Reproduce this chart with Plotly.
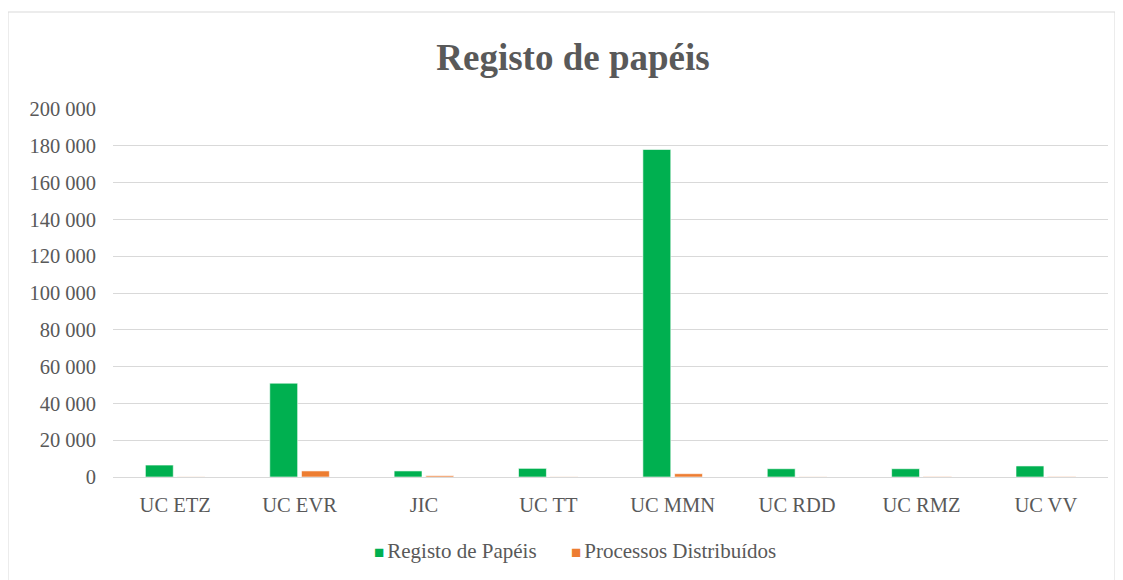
import plotly.graph_objects as go

categories = ["UC ETZ", "UC EVR", "JIC", "UC TT", "UC MMN", "UC RDD", "UC RMZ", "UC VV"]
registo_papeis = [6500, 51000, 3300, 4700, 178000, 4500, 4500, 6000]
processos_distribuidos = [100, 3300, 700, 100, 1800, 100, 250, 250]
y_ticks = [0, 20000, 40000, 60000, 80000, 100000, 120000, 140000, 160000, 180000, 200000]
series_names = ["Registo de Papéis", "Processos Distribuídos"]
series_colors = ["#00b050", "#ed7d31"]

font_family = "Liberation Serif"
text_color = "#595959"
grid_color = "#d9d9d9"

# the page body adds an 8px offset, margins are set with that in mind
L, T, PW, PH = 105, 101, 995, 368

fig = go.Figure()
for name, values, color in zip(series_names, [registo_papeis, processos_distribuidos], series_colors):
    fig.add_trace(go.Bar(x=categories, y=values, name=name, showlegend=False,
                         marker=dict(color=color, line=dict(color="#ffffff", width=0.6))))

fig.update_layout(
    width=1123, height=580,
    margin=dict(l=L, r=1123 - L - PW, t=T, b=580 - T - PH, autoexpand=False),
    paper_bgcolor="white", plot_bgcolor="white",
    separators=", ",
    barmode="group", bargap=0.49, bargroupgap=0.12,
    font=dict(family=font_family, color=text_color, size=20),
    title=dict(text="<b>Registo de papéis</b>", x=565 / 1123, xanchor="center",
               y=1 - 49 / 580, yanchor="middle",
               font=dict(family=font_family, size=37, color=text_color)),
)
fig.update_yaxes(range=[0, 200000], tickvals=y_ticks, tickformat=",.0f",
                 showgrid=True, gridcolor=grid_color, gridwidth=1,
                 zeroline=True, zerolinecolor=grid_color, zerolinewidth=1,
                 showline=False, ticks="", ticklabelstandoff=16, automargin=False,
                 tickfont=dict(family=font_family, size=20.5, color=text_color))
fig.update_xaxes(showline=True, linecolor=grid_color, linewidth=1, ticks="",
                 ticklabelstandoff=9, automargin=False,
                 tickfont=dict(family=font_family, size=20.5, color=text_color))

# legend drawn as annotations (square swatch + label)
legend_x = [(364 - L) / PW, (561 - L) / PW]
for name, color, lx in zip(series_names, series_colors, legend_x):
    fig.add_annotation(xref="paper", yref="paper", x=lx, y=(T + PH - 543) / PH,
                       xanchor="left", yanchor="middle", showarrow=False,
                       text=(f"<span style='color:{color};font-size:17px'>■</span>"
                             f"<span style='font-size:12px'> </span>{name}"),
                       font=dict(family=font_family, size=21, color=text_color))

# chart frame
fig.add_shape(type="rect", xref="paper", yref="paper",
              x0=(0 - L) / PW, x1=(1107 - L) / PW,
              y0=-0.4, y1=(PH + T - 4) / PH,
              line=dict(color=grid_color, width=1), fillcolor="rgba(0,0,0,0)", layer="below")

fig.write_html("out.html")
